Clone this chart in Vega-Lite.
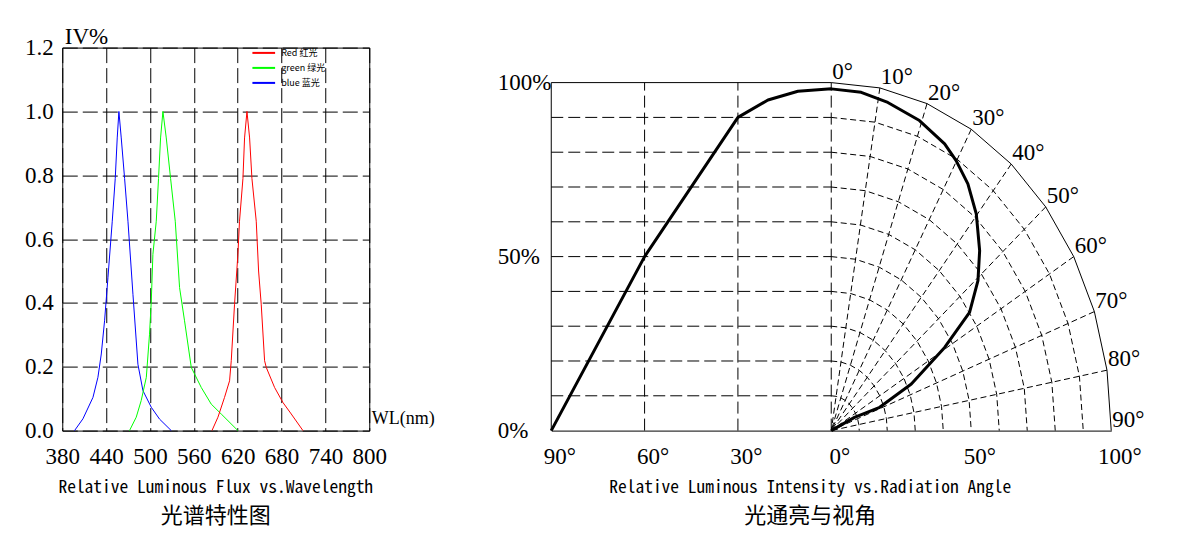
{
  "$schema": "https://vega.github.io/schema/vega-lite/v6.json",
  "padding": {"left": 23.25, "top": 24.6, "right": 5, "bottom": 5},
  "bounds": "flush",
  "spacing": 182,
  "config": {
    "view": {"stroke": null},
    "axis": {"labelFont": "Liberation Serif", "labelFontSize": 23, "labelColor": "black", "ticks": false, "domainColor": "black", "gridColor": "black", "gridOpacity": 1, "gridWidth": 1, "titleColor": "black"},
    "title": {"orient": "bottom", "anchor": "middle", "font": "Noto Sans Mono CJK SC, Liberation Mono", "fontSize": 17.5, "fontWeight": "normal", "color": "black", "subtitleFont": "Noto Sans CJK SC", "subtitleFontSize": 22, "subtitleColor": "black", "subtitlePadding": 9, "offset": 10.5}
  },
  "hconcat": [
    {
      "width": 307,
      "height": 383,
      "view": {"stroke": "black", "strokeWidth": 1},
      "title": {"text": "Relative Luminous Flux vs.Wavelength", "subtitle": "光谱特性图"},
      "data": {"values": [
        {"s": "blue 蓝光", "wl": 396.8, "iv": 0},
        {"s": "blue 蓝光", "wl": 408.3, "iv": 0.037},
        {"s": "blue 蓝光", "wl": 422, "iv": 0.104},
        {"s": "blue 蓝光", "wl": 428.8, "iv": 0.167},
        {"s": "blue 蓝光", "wl": 433.4, "iv": 0.24},
        {"s": "blue 蓝光", "wl": 437.9, "iv": 0.344},
        {"s": "blue 蓝光", "wl": 442.5, "iv": 0.479},
        {"s": "blue 蓝光", "wl": 448.4, "iv": 0.656},
        {"s": "blue 蓝光", "wl": 452.5, "iv": 0.79},
        {"s": "blue 蓝光", "wl": 455.2, "iv": 0.917},
        {"s": "blue 蓝光", "wl": 457.5, "iv": 1.0},
        {"s": "blue 蓝光", "wl": 460.7, "iv": 0.917},
        {"s": "blue 蓝光", "wl": 465.3, "iv": 0.79},
        {"s": "blue 蓝光", "wl": 469.9, "iv": 0.656},
        {"s": "blue 蓝光", "wl": 476.7, "iv": 0.427},
        {"s": "blue 蓝光", "wl": 483.5, "iv": 0.208},
        {"s": "blue 蓝光", "wl": 490.4, "iv": 0.125},
        {"s": "blue 蓝光", "wl": 501.8, "iv": 0.073},
        {"s": "blue 蓝光", "wl": 513.1, "iv": 0.036},
        {"s": "blue 蓝光", "wl": 529.1, "iv": 0},
        {"s": "green 绿光", "wl": 472, "iv": 0},
        {"s": "green 绿光", "wl": 481.2, "iv": 0.042},
        {"s": "green 绿光", "wl": 488, "iv": 0.094},
        {"s": "green 绿光", "wl": 495, "iv": 0.167},
        {"s": "green 绿光", "wl": 499.4, "iv": 0.302},
        {"s": "green 绿光", "wl": 501.8, "iv": 0.406},
        {"s": "green 绿光", "wl": 504, "iv": 0.552},
        {"s": "green 绿光", "wl": 508.6, "iv": 0.656},
        {"s": "green 绿光", "wl": 511.7, "iv": 0.79},
        {"s": "green 绿光", "wl": 514.5, "iv": 0.917},
        {"s": "green 绿光", "wl": 517.7, "iv": 1.0},
        {"s": "green 绿光", "wl": 522.3, "iv": 0.917},
        {"s": "green 绿光", "wl": 528.2, "iv": 0.79},
        {"s": "green 绿光", "wl": 534.6, "iv": 0.656},
        {"s": "green 绿光", "wl": 540.5, "iv": 0.448},
        {"s": "green 绿光", "wl": 547.3, "iv": 0.344},
        {"s": "green 绿光", "wl": 556.5, "iv": 0.198},
        {"s": "green 绿光", "wl": 570.2, "iv": 0.135},
        {"s": "green 绿光", "wl": 583.8, "iv": 0.083},
        {"s": "green 绿光", "wl": 597.5, "iv": 0.052},
        {"s": "green 绿光", "wl": 620.3, "iv": 0},
        {"s": "Red 红光", "wl": 584.8, "iv": 0},
        {"s": "Red 红光", "wl": 593, "iv": 0.042},
        {"s": "Red 红光", "wl": 602, "iv": 0.104},
        {"s": "Red 红光", "wl": 608.9, "iv": 0.156},
        {"s": "Red 红光", "wl": 611.2, "iv": 0.219},
        {"s": "Red 红光", "wl": 615.7, "iv": 0.396},
        {"s": "Red 红光", "wl": 620.3, "iv": 0.552},
        {"s": "Red 红光", "wl": 622.5, "iv": 0.656},
        {"s": "Red 红光", "wl": 627.2, "iv": 0.79},
        {"s": "Red 红光", "wl": 629.4, "iv": 0.917},
        {"s": "Red 红光", "wl": 632.7, "iv": 1.0},
        {"s": "Red 红光", "wl": 636.3, "iv": 0.917},
        {"s": "Red 红光", "wl": 639.5, "iv": 0.79},
        {"s": "Red 红光", "wl": 645.4, "iv": 0.656},
        {"s": "Red 红光", "wl": 648.6, "iv": 0.5},
        {"s": "Red 红光", "wl": 652.2, "iv": 0.396},
        {"s": "Red 红光", "wl": 656.8, "iv": 0.219},
        {"s": "Red 红光", "wl": 659.1, "iv": 0.198},
        {"s": "Red 红光", "wl": 670.5, "iv": 0.135},
        {"s": "Red 红光", "wl": 681.9, "iv": 0.088},
        {"s": "Red 红光", "wl": 693.3, "iv": 0.052},
        {"s": "Red 红光", "wl": 709.3, "iv": 0}
      ]},
      "mark": {"type": "line", "strokeWidth": 1},
      "encoding": {
        "x": {"field": "wl", "type": "quantitative", "scale": {"domain": [380, 800], "nice": false, "zero": false},
          "axis": {"values": [380, 440, 500, 560, 620, 680, 740, 800], "grid": true, "gridDash": [15, 5], "domain": false, "labelPadding": 15, "labelFlush": false, "labelOverlap": false,
            "title": "WL(nm)", "titleFont": "Liberation Serif", "titleFontSize": 18, "titleFontWeight": "normal", "titleAlign": "left", "titleBaseline": "alphabetic", "titleX": 309, "titleY": -7}},
        "y": {"field": "iv", "type": "quantitative", "scale": {"domain": [0, 1.2], "nice": false},
          "axis": {"values": [0, 0.2, 0.4, 0.6, 0.8, 1.0, 1.2], "format": ".1f", "grid": true, "gridDash": [15, 5], "domain": false, "labelPadding": 9, "labelFlush": false, "labelOverlap": false,
            "title": "IV%", "titleAngle": 0, "titleAlign": "left", "titleBaseline": "alphabetic", "titleX": 2, "titleY": -4, "titleFont": "Liberation Serif", "titleFontSize": 23, "titleFontWeight": "normal"}},
        "color": {"field": "s", "type": "nominal",
          "scale": {"domain": ["Red 红光", "green 绿光", "blue 蓝光"], "range": ["#ff0000", "#00ff00", "#0000ff"]},
          "legend": {"orient": "none", "legendX": 192, "legendY": -4.2, "title": null, "symbolType": "M-1.335,0H1.335", "symbolSize": 289, "symbolStrokeWidth": 2, "labelFont": "Noto Sans CJK SC", "labelFontSize": 9, "labelOffset": 8, "rowPadding": 0, "padding": 0, "labelColor": "black"}}
      }
    },
    {
      "width": 560,
      "height": 383,
      "view": {"stroke": null},
      "title": {"text": "Relative Luminous Intensity vs.Radiation Angle", "subtitle": "光通亮与视角", "dx": -21},
      "layer": [
        {
          "data": {"values": [{"y": 10}, {"y": 20}, {"y": 30}, {"y": 40}, {"y": 50}, {"y": 60}, {"y": 70}, {"y": 80}, {"y": 90}]},
          "mark": {"type": "rule", "strokeDash": [12, 5], "color": "black", "strokeWidth": 1},
          "encoding": {
            "x": {"datum": -100, "type": "quantitative", "scale": {"domain": [-100, 100], "nice": false, "zero": false}},
            "x2": {"datum": 0},
            "y": {"field": "y", "type": "quantitative", "scale": {"domain": [0, 110.06], "nice": false, "zero": false}}
          }
        },
        {
          "data": {"values": [{"x": -66.667}, {"x": -33.333}, {"x": 0}]},
          "mark": {"type": "rule", "strokeDash": [12, 5], "color": "black", "strokeWidth": 1},
          "encoding": {
            "x": {"field": "x", "type": "quantitative"},
            "y": {"datum": 0, "type": "quantitative"},
            "y2": {"datum": 100}
          }
        },
        {
          "data": {"values": [
            {"r": 10, "x": 0, "y": 10}, {"r": 10, "x": 1.74, "y": 9.85}, {"r": 10, "x": 3.42, "y": 9.4}, {"r": 10, "x": 5, "y": 8.66}, {"r": 10, "x": 6.43, "y": 7.66}, {"r": 10, "x": 7.66, "y": 6.43}, {"r": 10, "x": 8.66, "y": 5}, {"r": 10, "x": 9.4, "y": 3.42}, {"r": 10, "x": 9.85, "y": 1.74}, {"r": 10, "x": 10, "y": 0},
            {"r": 20, "x": 0, "y": 20}, {"r": 20, "x": 3.47, "y": 19.7}, {"r": 20, "x": 6.84, "y": 18.79}, {"r": 20, "x": 10, "y": 17.32}, {"r": 20, "x": 12.86, "y": 15.32}, {"r": 20, "x": 15.32, "y": 12.86}, {"r": 20, "x": 17.32, "y": 10}, {"r": 20, "x": 18.79, "y": 6.84}, {"r": 20, "x": 19.7, "y": 3.47}, {"r": 20, "x": 20, "y": 0},
            {"r": 30, "x": 0, "y": 30}, {"r": 30, "x": 5.21, "y": 29.54}, {"r": 30, "x": 10.26, "y": 28.19}, {"r": 30, "x": 15, "y": 25.98}, {"r": 30, "x": 19.28, "y": 22.98}, {"r": 30, "x": 22.98, "y": 19.28}, {"r": 30, "x": 25.98, "y": 15}, {"r": 30, "x": 28.19, "y": 10.26}, {"r": 30, "x": 29.54, "y": 5.21}, {"r": 30, "x": 30, "y": 0},
            {"r": 40, "x": 0, "y": 40}, {"r": 40, "x": 6.95, "y": 39.39}, {"r": 40, "x": 13.68, "y": 37.59}, {"r": 40, "x": 20, "y": 34.64}, {"r": 40, "x": 25.71, "y": 30.64}, {"r": 40, "x": 30.64, "y": 25.71}, {"r": 40, "x": 34.64, "y": 20}, {"r": 40, "x": 37.59, "y": 13.68}, {"r": 40, "x": 39.39, "y": 6.95}, {"r": 40, "x": 40, "y": 0},
            {"r": 50, "x": 0, "y": 50}, {"r": 50, "x": 8.68, "y": 49.24}, {"r": 50, "x": 17.1, "y": 46.98}, {"r": 50, "x": 25, "y": 43.3}, {"r": 50, "x": 32.14, "y": 38.3}, {"r": 50, "x": 38.3, "y": 32.14}, {"r": 50, "x": 43.3, "y": 25}, {"r": 50, "x": 46.98, "y": 17.1}, {"r": 50, "x": 49.24, "y": 8.68}, {"r": 50, "x": 50, "y": 0},
            {"r": 60, "x": 0, "y": 60}, {"r": 60, "x": 10.42, "y": 59.09}, {"r": 60, "x": 20.52, "y": 56.38}, {"r": 60, "x": 30, "y": 51.96}, {"r": 60, "x": 38.57, "y": 45.96}, {"r": 60, "x": 45.96, "y": 38.57}, {"r": 60, "x": 51.96, "y": 30}, {"r": 60, "x": 56.38, "y": 20.52}, {"r": 60, "x": 59.09, "y": 10.42}, {"r": 60, "x": 60, "y": 0},
            {"r": 70, "x": 0, "y": 70}, {"r": 70, "x": 12.16, "y": 68.94}, {"r": 70, "x": 23.94, "y": 65.78}, {"r": 70, "x": 35, "y": 60.62}, {"r": 70, "x": 45, "y": 53.62}, {"r": 70, "x": 53.62, "y": 45}, {"r": 70, "x": 60.62, "y": 35}, {"r": 70, "x": 65.78, "y": 23.94}, {"r": 70, "x": 68.94, "y": 12.16}, {"r": 70, "x": 70, "y": 0},
            {"r": 80, "x": 0, "y": 80}, {"r": 80, "x": 13.89, "y": 78.78}, {"r": 80, "x": 27.36, "y": 75.18}, {"r": 80, "x": 40, "y": 69.28}, {"r": 80, "x": 51.42, "y": 61.28}, {"r": 80, "x": 61.28, "y": 51.42}, {"r": 80, "x": 69.28, "y": 40}, {"r": 80, "x": 75.18, "y": 27.36}, {"r": 80, "x": 78.78, "y": 13.89}, {"r": 80, "x": 80, "y": 0},
            {"r": 90, "x": 0, "y": 90}, {"r": 90, "x": 15.63, "y": 88.63}, {"r": 90, "x": 30.78, "y": 84.57}, {"r": 90, "x": 45, "y": 77.94}, {"r": 90, "x": 57.85, "y": 68.94}, {"r": 90, "x": 68.94, "y": 57.85}, {"r": 90, "x": 77.94, "y": 45}, {"r": 90, "x": 84.57, "y": 30.78}, {"r": 90, "x": 88.63, "y": 15.63}, {"r": 90, "x": 90, "y": 0}
          ]},
          "mark": {"type": "line", "strokeDash": [6, 3.5], "color": "black", "strokeWidth": 1},
          "encoding": {
            "x": {"field": "x", "type": "quantitative"},
            "y": {"field": "y", "type": "quantitative"},
            "detail": {"field": "r", "type": "nominal"}
          }
        },
        {
          "data": {"values": [
            {"x": 0, "y": 100}, {"x": 17.36, "y": 98.48}, {"x": 34.2, "y": 93.97}, {"x": 50, "y": 86.6}, {"x": 64.28, "y": 76.6}, {"x": 76.6, "y": 64.28}, {"x": 86.6, "y": 50}, {"x": 93.97, "y": 34.2}, {"x": 98.48, "y": 17.36}, {"x": 100, "y": 0}
          ]},
          "mark": {"type": "line", "color": "black", "strokeWidth": 1},
          "encoding": {
            "x": {"field": "x", "type": "quantitative"},
            "y": {"field": "y", "type": "quantitative"}
          }
        },
        {
          "data": {"values": [
            {"x": 17.36, "y": 98.48}, {"x": 34.2, "y": 93.97}, {"x": 50, "y": 86.6}, {"x": 64.28, "y": 76.6}, {"x": 76.6, "y": 64.28}, {"x": 86.6, "y": 50}, {"x": 93.97, "y": 34.2}, {"x": 98.48, "y": 17.36}
          ]},
          "mark": {"type": "rule", "strokeDash": [6, 3.5], "color": "black", "strokeWidth": 1},
          "encoding": {
            "x": {"field": "x", "type": "quantitative"},
            "y": {"field": "y", "type": "quantitative"},
            "x2": {"datum": 0},
            "y2": {"datum": 0}
          }
        },
        {
          "data": {"values": [{}]},
          "mark": {"type": "rule", "color": "black", "strokeWidth": 1},
          "encoding": {
            "x": {"datum": -100, "type": "quantitative"},
            "y": {"datum": 0, "type": "quantitative"},
            "y2": {"datum": 100}
          }
        },
        {
          "data": {"values": [{}]},
          "mark": {"type": "rule", "color": "black", "strokeWidth": 1},
          "encoding": {
            "x": {"datum": -100, "type": "quantitative"},
            "x2": {"datum": 0},
            "y": {"datum": 100, "type": "quantitative"}
          }
        },
        {
          "data": {"values": [
            {"i": 1, "x": -100, "y": 0},
            {"i": 2, "x": -66.67, "y": 50},
            {"i": 3, "x": -33.33, "y": 90},
            {"i": 4, "x": -22.6, "y": 95},
            {"i": 5, "x": -11.9, "y": 97.5},
            {"i": 6, "x": 0, "y": 98.2},
            {"i": 7, "x": 10.7, "y": 97.2},
            {"i": 8, "x": 20.2, "y": 94.3},
            {"i": 9, "x": 31.5, "y": 89.1},
            {"i": 10, "x": 40.5, "y": 82.4},
            {"i": 11, "x": 44.6, "y": 77.6},
            {"i": 12, "x": 48.8, "y": 70.9},
            {"i": 13, "x": 51.8, "y": 62.3},
            {"i": 14, "x": 53, "y": 51.7},
            {"i": 15, "x": 52.4, "y": 43.1},
            {"i": 16, "x": 49.4, "y": 34},
            {"i": 17, "x": 40.5, "y": 23.9},
            {"i": 18, "x": 28.6, "y": 13.4},
            {"i": 19, "x": 17.3, "y": 6.7},
            {"i": 20, "x": 8.3, "y": 3.8},
            {"i": 21, "x": 0, "y": 0}
          ]},
          "mark": {"type": "line", "color": "black", "strokeWidth": 3, "strokeJoin": "round"},
          "encoding": {
            "x": {"field": "x", "type": "quantitative",
              "axis": {"values": [-100, -66.667, -33.333, 0, 50, 100], "labelExpr": "datum.value < 0 ? format(-datum.value*0.9, 'd') + '°' : format(datum.value, 'd') + '°'", "grid": false, "domain": true, "domainColor": "black", "labelOffset": 8, "labelPadding": 15, "labelFlush": false, "labelOverlap": false, "title": null}},
            "y": {"field": "y", "type": "quantitative",
              "axis": {"values": [0, 50, 100], "labelExpr": "datum.value + '%'", "grid": false, "domain": false, "labelAlign": "left", "labelPadding": 54, "labelFlush": false, "labelOverlap": false, "title": null}},
            "order": {"field": "i", "type": "quantitative"}
          }
        },
        {
          "data": {"values": [
            {"lab": "0°", "x": 0, "y": 100}, {"lab": "10°", "x": 17.36, "y": 98.48}, {"lab": "20°", "x": 34.2, "y": 93.97}, {"lab": "30°", "x": 50, "y": 86.6}, {"lab": "40°", "x": 64.28, "y": 76.6}, {"lab": "50°", "x": 76.6, "y": 64.28}, {"lab": "60°", "x": 86.6, "y": 50}, {"lab": "70°", "x": 93.97, "y": 34.2}, {"lab": "80°", "x": 98.48, "y": 17.36}, {"lab": "90°", "x": 100, "y": 0}
          ]},
          "mark": {"type": "text", "align": "left", "baseline": "alphabetic", "dx": 1, "dy": -4, "font": "Liberation Serif", "fontSize": 23, "color": "black"},
          "encoding": {
            "x": {"field": "x", "type": "quantitative"},
            "y": {"field": "y", "type": "quantitative"},
            "text": {"field": "lab", "type": "nominal"}
          }
        }
      ]
    }
  ]
}
